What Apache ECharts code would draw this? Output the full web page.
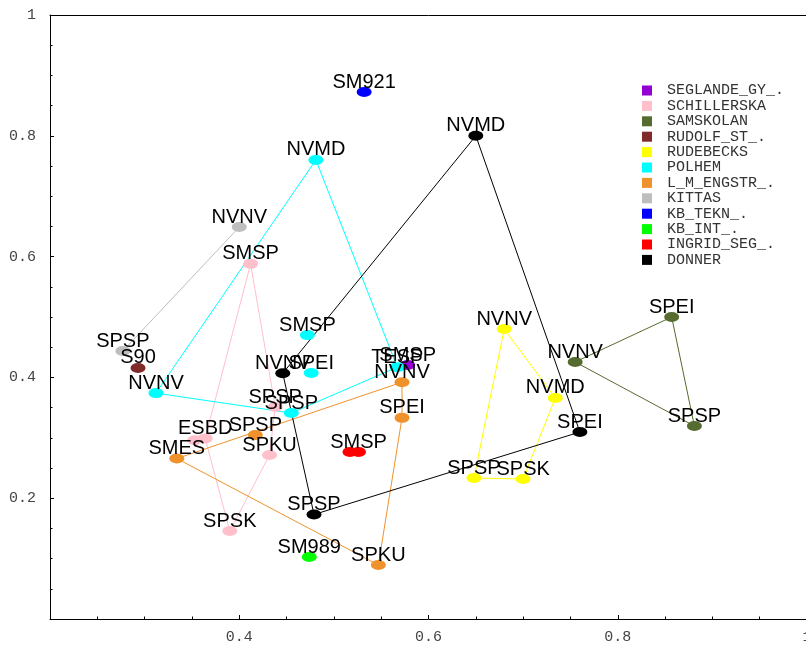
<!DOCTYPE html>
<html><head><meta charset="utf-8">
<script src="https://cdn.jsdelivr.net/npm/echarts@6/dist/echarts.min.js"></script>
<style>html,body{margin:0;padding:0;background:#fff}#c{width:806px;height:649px}</style>
</head><body><div id="c"></div>
<script>
// School names (legend order) and colours
const schools = ['SEGLANDE_GY_.', 'SCHILLERSKA', 'SAMSKOLAN', 'RUDOLF_ST_.', 'RUDEBECKS', 'POLHEM',
  'L_M_ENGSTR_.', 'KITTAS', 'KB_TEKN_.', 'KB_INT_.', 'INGRID_SEG_.', 'DONNER'];
const colors = ['#9400D3', '#FFC0CB', '#556B2F', '#802A2A', '#FFFF00', '#00FFFF',
  '#F0922B', '#BEBEBE', '#0000FF', '#00FF00', '#FF0000', '#000000'];

// Per-school points: labels, x, y, and hull path (indices)
const seglandeLabels = ['SMSP'];
const seglandeX = [0.578];
const seglandeY = [0.4205];
const seglandeHull = [];

const schillerLabels = ['SMSP', 'SPSP', 'SPKU', 'SPSK', 'ESBD', ''];
const schillerX = [0.412, 0.438, 0.432, 0.390, 0.364, 0.353];
const schillerY = [0.588, 0.351, 0.2715, 0.1457, 0.299, 0.296];
const schillerHull = [0, 1, 2, 3, 4, 0];

const samskolanLabels = ['NVNV', 'SPEI', 'SPSP'];
const samskolanX = [0.755, 0.857, 0.881];
const samskolanY = [0.4255, 0.500, 0.3195];
const samskolanHull = [0, 1, 2, 0];

const rudolfLabels = ['S90'];
const rudolfX = [0.293];
const rudolfY = [0.4156];
const rudolfHull = [];

const rudebecksLabels = ['NVNV', 'NVMD', 'SPSK', 'SPSP'];
const rudebecksX = [0.680, 0.734, 0.700, 0.648];
const rudebecksY = [0.480, 0.366, 0.2318, 0.2334];
const rudebecksHull = [0, 1, 2, 3, 0];

const polhemLabels = ['NVMD', 'TESP', 'SPSP', 'NVNV', 'SMSP', 'SPEI'];
const polhemX = [0.481, 0.567, 0.455, 0.312, 0.472, 0.476];
const polhemY = [0.760, 0.417, 0.341, 0.374, 0.470, 0.4073];
const polhemHull = [0, 1, 2, 3, 0];

const engstrLabels = ['NVNV', 'SPEI', 'SPKU', 'SMES', 'SPSP'];
const engstrX = [0.572, 0.572, 0.547, 0.334, 0.417];
const engstrY = [0.392, 0.333, 0.0894, 0.2657, 0.3046];
const engstrHull = [0, 1, 2, 3, 0];

const kittasLabels = ['NVNV', 'SPSP'];
const kittasX = [0.400, 0.277];
const kittasY = [0.649, 0.4437];
const kittasHull = [0, 1];

const kbteknLabels = ['SM921'];
const kbteknX = [0.532];
const kbteknY = [0.8725];
const kbteknHull = [];

const kbintLabels = ['SM989'];
const kbintX = [0.474];
const kbintY = [0.1026];
const kbintHull = [];

const ingridLabels = ['SMSP', ''];
const ingridX = [0.526, 0.517];
const ingridY = [0.2765, 0.2765];
const ingridHull = [];

const donnerLabels = ['NVMD', 'SPEI', 'SPSP', 'NVNV'];
const donnerX = [0.650, 0.760, 0.479, 0.446];
const donnerY = [0.800, 0.3096, 0.173, 0.4068];
const donnerHull = [0, 1, 2, 3, 0];

const groups = [
  [seglandeLabels, seglandeX, seglandeY, seglandeHull],
  [schillerLabels, schillerX, schillerY, schillerHull],
  [samskolanLabels, samskolanX, samskolanY, samskolanHull],
  [rudolfLabels, rudolfX, rudolfY, rudolfHull],
  [rudebecksLabels, rudebecksX, rudebecksY, rudebecksHull],
  [polhemLabels, polhemX, polhemY, polhemHull],
  [engstrLabels, engstrX, engstrY, engstrHull],
  [kittasLabels, kittasX, kittasY, kittasHull],
  [kbteknLabels, kbteknX, kbteknY, kbteknHull],
  [kbintLabels, kbintX, kbintY, kbintHull],
  [ingridLabels, ingridX, ingridY, ingridHull],
  [donnerLabels, donnerX, donnerY, donnerHull]
];

const lineSeries = [];
const scatterSeries = [];
groups.forEach((g, k) => {
  const [labs, xs, ys, hull] = g;
  const color = colors[k];
  const name = schools[k];
  scatterSeries.push({
    type: 'scatter', name: name,
    data: labs.map((l, i) => ({ name: l, value: [xs[i], ys[i]] })),
    symbol: 'circle', symbolSize: [15, 10],
    itemStyle: { color: color, opacity: 1 },
    label: { show: true, position: 'top', distance: -5, formatter: '{b}', color: '#000',
      fontSize: 20, fontFamily: 'Liberation Sans' },
    z: 3, silent: true
  });
  if (hull.length) {
    lineSeries.push({
      type: 'line', name: name,
      data: hull.map(i => [xs[i], ys[i]]),
      showSymbol: false, symbol: 'none',
      lineStyle: { color: color, width: 1 },
      itemStyle: { color: color },
      z: 1, silent: true, animation: false
    });
  }
});

const axisFont = { fontFamily: 'Liberation Mono', fontSize: 15, color: '#444' };
const chart = echarts.init(document.getElementById('c'), null, { renderer: 'canvas' });
chart.setOption({
  animation: false,
  backgroundColor: '#fff',
  grid: { left: 50, right: -1, top: 15, bottom: 30, containLabel: false, outerBoundsMode: 'none' },
  legend: {
    orient: 'vertical', left: 642, top: 83, padding: 0,
    itemWidth: 10, itemHeight: 10, itemGap: 0.4,
    data: schools.map(n => ({ name: n, icon: 'rect' })),
    textStyle: { fontFamily: 'Liberation Mono', fontSize: 15, color: '#333', lineHeight: 15, padding: [0, 0, 0, 10] },
    selectedMode: false
  },
  xAxis: [{
    type: 'value', min: 0.2, max: 1, interval: 0.2, position: 'bottom',
    axisLine: { show: true, onZero: false, lineStyle: { color: '#000', width: 1 } },
    axisTick: { show: true, inside: true, length: 4, lineStyle: { color: '#000' } },
    minorTick: { show: true, splitNumber: 4, length: 2.5, lineStyle: { color: '#000' } },
    splitLine: { show: false },
    axisLabel: Object.assign({ showMinLabel: false, margin: 11 }, axisFont)
  }, {
    type: 'value', min: 0.2, max: 1, position: 'top',
    axisLine: { show: true, onZero: false, lineStyle: { color: '#000', width: 1 } },
    axisTick: { show: false }, axisLabel: { show: false }, splitLine: { show: false }
  }],
  yAxis: {
    type: 'value', min: 0, max: 1, interval: 0.2,
    axisLine: { show: true, onZero: false, lineStyle: { color: '#000', width: 1 } },
    axisTick: { show: true, inside: true, length: 4, lineStyle: { color: '#000' } },
    minorTick: { show: true, splitNumber: 4, length: 2.5, lineStyle: { color: '#000' } },
    splitLine: { show: false },
    axisLabel: Object.assign({ showMinLabel: false, margin: 14 }, axisFont)
  },
  series: scatterSeries.concat(lineSeries)
});
</script>
</body></html>
